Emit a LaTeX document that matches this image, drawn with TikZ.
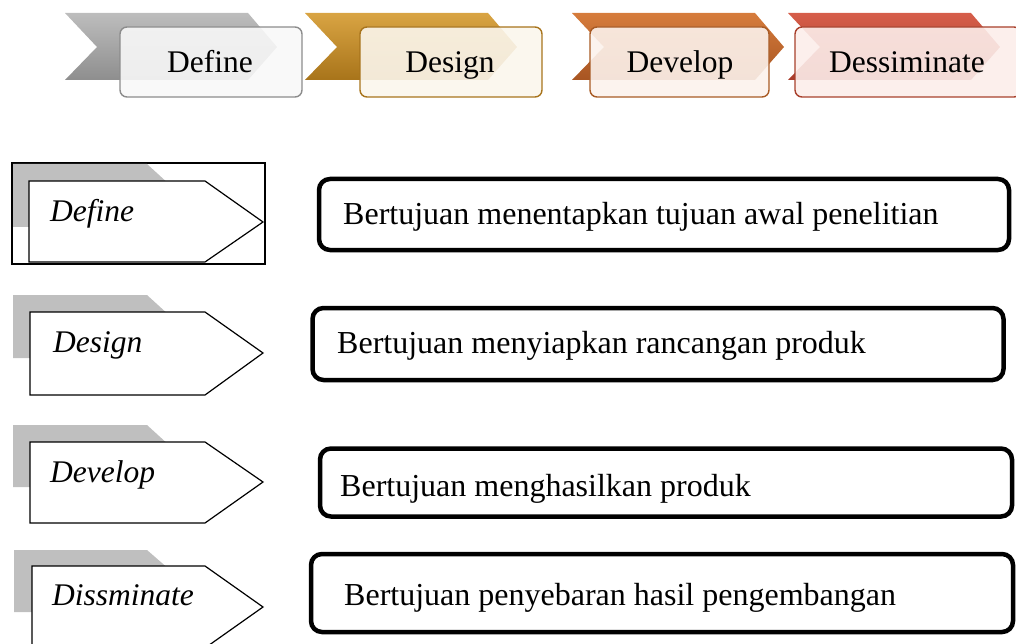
\documentclass[tikz,border=0pt]{standalone}
\usepackage{fontspec}
\setmainfont{Liberation Serif}
\definecolor{c1t}{HTML}{BDBDBD}\definecolor{c1b}{HTML}{8E8E8E}
\definecolor{c2t}{HTML}{D9A443}\definecolor{c2b}{HTML}{A8741A}
\definecolor{c3t}{HTML}{D67C3C}\definecolor{c3b}{HTML}{A85522}
\definecolor{c4t}{HTML}{D65E4A}\definecolor{c4b}{HTML}{A83B2B}
\definecolor{e1}{HTML}{8C8C8C}\definecolor{f1}{HTML}{F8F8F8}
\definecolor{e2}{HTML}{A8741C}\definecolor{f2}{HTML}{FBF6EC}
\definecolor{e3}{HTML}{A85A24}\definecolor{f3}{HTML}{FCF2EC}
\definecolor{e4}{HTML}{A8402C}\definecolor{f4}{HTML}{FCEDEA}
\definecolor{shadowgray}{HTML}{BFBFBF}
\newcommand{\mychev}[3]{\shade[top color=#2, bottom color=#3] (#1,13) -- ++(183,0) -- ++(29,34) -- ++(-29,33) -- ++(-183,0) -- ++(32,-33) -- cycle;}
\begin{document}
\begin{tikzpicture}[x=1pt,y=-1pt,
  topbox/.style={draw, line width=1.4pt, rounded corners=7pt, minimum height=70pt, inner sep=0pt, fill opacity=0.9},
  toptext/.style={font=\fontsize{31.5}{36}\selectfont, inner sep=0pt, anchor=base},
  lefttext/.style={font=\fontsize{31.5}{36}\selectfont\itshape, inner sep=0pt, anchor=base west},
  pent/.style={draw, fill=white, line width=1.2pt, line join=miter},
  shad/.style={fill=shadowgray},
  rtbox/.style={draw, line width=4.5pt, rounded corners=11pt, inner sep=0pt},
  rtext/.style={font=\fontsize{32}{36}\selectfont, inner sep=0pt, anchor=base west}]
\useasboundingbox (0,0) rectangle (1016,644);
\clip (0,0) rectangle (1016,644);
% ---- top row ----
\mychev{65}{c1t}{c1b}
\mychev{305}{c2t}{c2b}
\mychev{572}{c3t}{c3b}
\mychev{788}{c4t}{c4b}
\node[topbox, draw=e1, fill=f1, minimum width=182pt] (b1) at (211,62) {};
\node[topbox, draw=e2, fill=f2, minimum width=182pt] (b2) at (451,62) {};
\node[topbox, draw=e3, fill=f3, minimum width=179pt] (b3) at (679.5,62) {};
\node[topbox, draw=e4, fill=f4, minimum width=226pt] (b4) at (908,62) {};
\node[toptext] (tb1) at (210,73) {Define};
\node[toptext] (tb2) at (450,73) {Design};
\node[toptext] (tb3) at (680,73) {Develop};
\node[toptext] (tb4) at (907,73) {Dessiminate};
% ---- left column ----
\draw[line width=1.2pt] (12,163) rectangle (265,264);
\fill[shad] (13,164) -- (147,164) -- (170,185) -- (170,227) -- (13,227) -- cycle;
\draw[pent] (29,181) -- (205,181) -- (263,222) -- (205,262) -- (29,262) -- cycle;
\node[lefttext] (l1) at (50,222) {Define};
\fill[shad] (13,295) -- (147,295) -- (170,316) -- (170,358) -- (13,358) -- cycle;
\draw[pent] (30,312) -- (205,312) -- (263,353) -- (205,395) -- (30,395) -- cycle;
\node[lefttext] (l2) at (53,352) {Design};
\fill[shad] (13,425) -- (147,425) -- (170,446) -- (170,487) -- (13,487) -- cycle;
\draw[pent] (30,442) -- (205,442) -- (263,482) -- (205,523) -- (30,523) -- cycle;
\node[lefttext] (l3) at (50,482) {Develop};
\fill[shad] (14,550) -- (147,550) -- (170,570) -- (170,612) -- (14,612) -- cycle;
\draw[pent] (32,566) -- (205,566) -- (263,607) -- (205,648) -- (32,648) -- cycle;
\node[lefttext] (l4) at (52,605) {Dissminate};
% ---- right boxes ----
\node[rtbox, minimum width=690pt, minimum height=71pt] (r1) at (664,214.5) {};
\node[rtext] (t1) at (343,225) {Bertujuan menentapkan tujuan awal penelitian};
\node[rtbox, minimum width=691pt, minimum height=72pt] (r2) at (658,344) {};
\node[rtext] (t2) at (337,353) {Bertujuan menyiapkan rancangan produk};
\node[rtbox, minimum width=692pt, minimum height=68pt] (r3) at (666,482.5) {};
\node[rtext] (t3) at (340,496) {Bertujuan menghasilkan produk};
\node[rtbox, minimum width=702pt, minimum height=78pt] (r4) at (662,593) {};
\node[rtext] (t4) at (344,605) {Bertujuan penyebaran hasil pengembangan};
\end{tikzpicture}
\end{document}
